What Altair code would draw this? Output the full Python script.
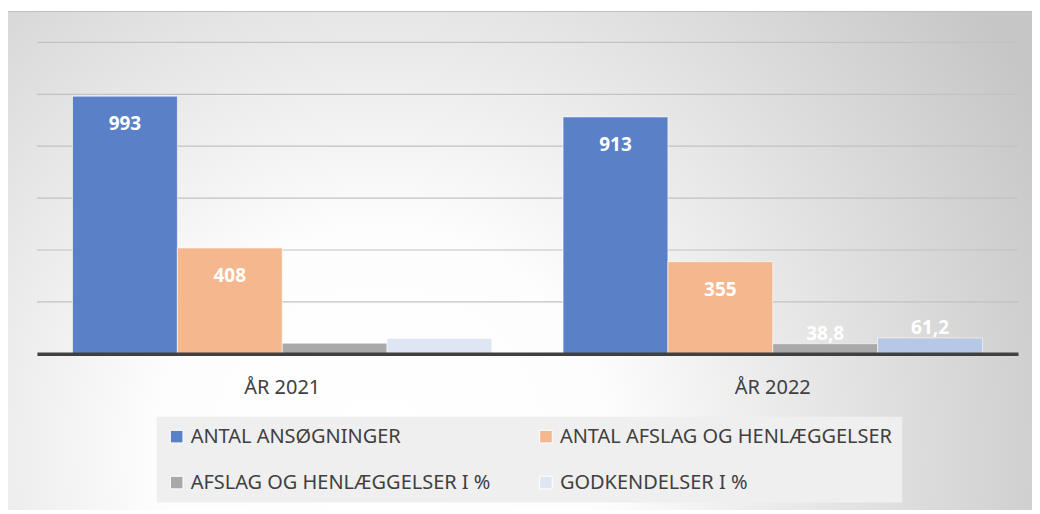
import altair as alt
import pandas as pd

years = ["ÅR 2021", "ÅR 2022"]
series = [
    "ANTAL ANSØGNINGER",
    "ANTAL AFSLAG OG HENLÆGGELSER",
    "AFSLAG OG HENLÆGGELSER I %",
    "GODKENDELSER I %",
]
values_2021 = [993, 408, 41.1, 58.9]
values_2022 = [913, 355, 38.8, 61.2]
kinds = ["count", "count", "pct", "pct"]
grid_values = [200, 400, 600, 800, 1000, 1200]

colors = ["#5a80c8", "#f4b78e", "#a9a9a9", "#dfe6f3", "#b6c8e6"]
extra_key = "GODKENDELSER I % (2022)"

rows = []
for yr, vals in zip(years, [values_2021, values_2022]):
    for s, v, k in zip(series, vals, kinds):
        lab = str(int(v)) if k == "count" else f"{v:.1f}".replace(".", ",")
        key = extra_key if (yr == "ÅR 2022" and s == "GODKENDELSER I %") else s
        rows.append({"year": yr, "series": s, "value": v, "label": lab, "kind": k, "ckey": key})
df = pd.DataFrame(rows)
grid_df = pd.DataFrame({"g": grid_values})
bg_df = pd.DataFrame({"d": [0]})

FONT = "Noto Sans"

bg = alt.Chart(bg_df).mark_rect(
    fill={
        "gradient": "radial",
        "x1": 0.36, "y1": 0.68, "x2": 0.36, "y2": 0.68,
        "r1": 0, "r2": 0.72,
        "stops": [
            {"offset": 0, "color": "#ffffff"},
            {"offset": 0.3, "color": "#fdfdfd"},
            {"offset": 1, "color": "#c6c6c6"},
        ],
    },
    stroke="#c0c0c0",
    strokeWidth=1,
).encode(
    x=alt.value(-30), x2=alt.value(1010), y=alt.value(-31), y2=alt.value(480)
)

grid = alt.Chart(grid_df).mark_rule(color="#c2c2c2", strokeWidth=1.2).encode(
    y=alt.Y("g:Q", axis=None, scale=alt.Scale(domain=[0, 1200]))
)

x_enc = alt.X(
    "year:N",
    sort=years,
    title=None,
    scale=alt.Scale(paddingInner=0.145, paddingOuter=0.0725),
    axis=alt.Axis(
        labelAngle=0,
        labelFont=FONT,
        labelFontSize=20,
        labelColor="#404040",
        labelPadding=24,
        ticks=False,
        domainColor="#404040",
        domainWidth=3.5,
        zindex=1,
    ),
)
xoff_enc = alt.XOffset("series:N", sort=series, scale=alt.Scale(paddingInner=0, paddingOuter=0))
y_enc = alt.Y("value:Q", axis=None, scale=alt.Scale(domain=[0, 1200]))

bars = alt.Chart(df).mark_bar(stroke="#ffffff", strokeWidth=1, strokeOpacity=0.6).encode(
    x=x_enc,
    xOffset=xoff_enc,
    y=y_enc,
    color=alt.Color(
        "ckey:N",
        scale=alt.Scale(domain=series + [extra_key], range=colors),
        legend=alt.Legend(
            title=None,
            values=series,
            orient="none",
            direction="horizontal",
            legendX=120,
            legendY=375,
            columns=2,
            columnPadding=45,
            rowPadding=26,
            padding=10,
            fillColor="#efefef",
            symbolType="square",
            symbolSize=160,
            symbolStrokeColor="#ffffff",
            symbolStrokeWidth=1,
            symbolOpacity=1,
            labelFont=FONT,
            labelFontSize=20,
            labelColor="#404040",
            labelOffset=4,
            labelLimit=0,
        ),
    ),
)

text_counts = alt.Chart(df).transform_filter("datum.kind == 'count'").mark_text(
    font=FONT, fontSize=19, fontWeight="bold", color="#ffffff", baseline="middle", dy=28
).encode(x=alt.X("year:N", sort=years), xOffset=xoff_enc, y=y_enc, text="label:N")

text_pcts = alt.Chart(df).transform_filter("datum.kind == 'pct'").mark_text(
    font=FONT, fontSize=19, fontWeight="bold", color="#ffffff", baseline="middle", dy=-10
).encode(x=alt.X("year:N", sort=years), xOffset=xoff_enc, y=y_enc, text="label:N")

chart = alt.layer(bg, grid, bars, text_counts, text_pcts).properties(
    width=983,
    height=312,
    autosize=alt.AutoSizeParams(type="none"),
    padding={"left": 29, "top": 34, "right": 14, "bottom": 156},
).configure_view(stroke=None).configure(background="#ffffff")

chart.save("out.html", embed_options={"renderer": "svg", "actions": False})
